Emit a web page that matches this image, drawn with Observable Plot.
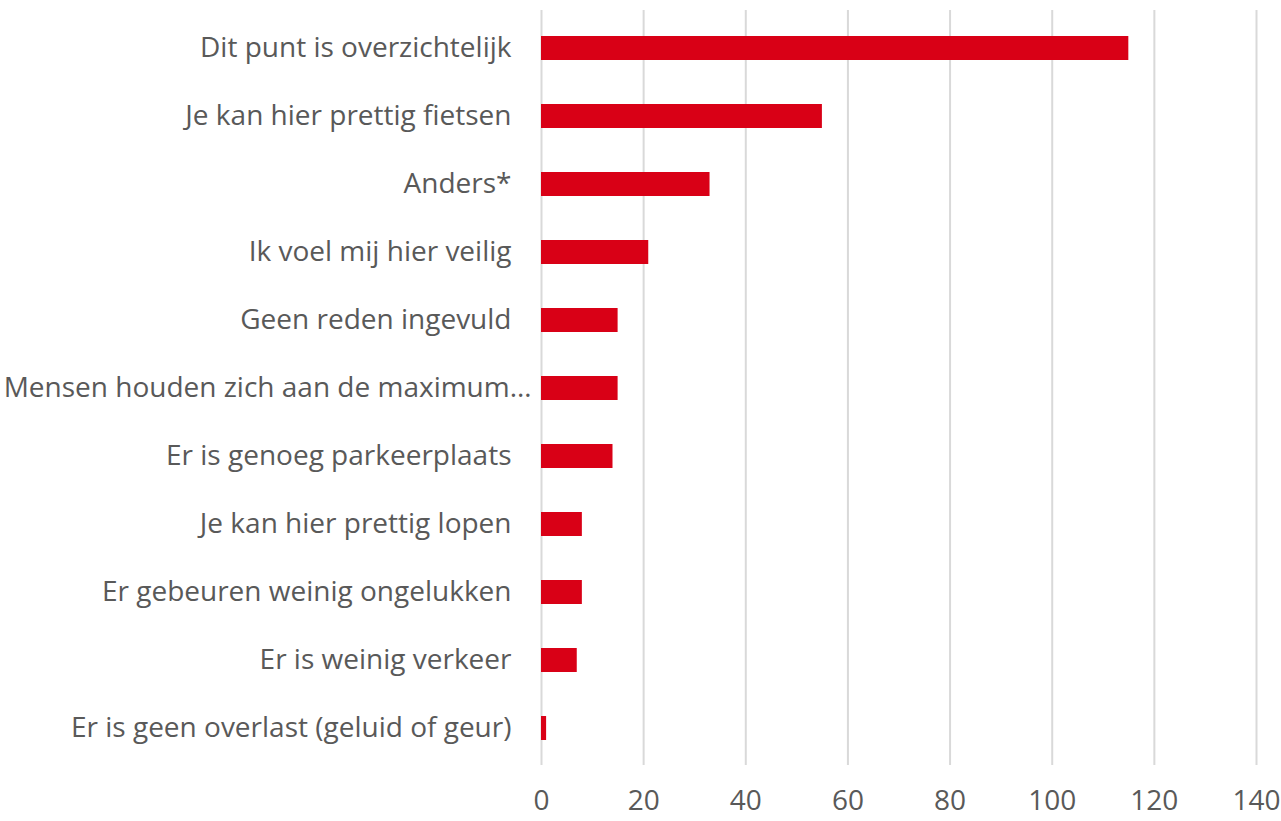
<!DOCTYPE html>
<html>
<head>
<meta charset="utf-8">
<script src="https://cdn.jsdelivr.net/npm/d3@7"></script>
<script src="https://cdn.jsdelivr.net/npm/@observablehq/plot@0.6"></script>
<style>
  html, body { margin: 0; padding: 0; background: #fff; }
  #chart { width: 1281px; height: 821px; }
</style>
</head>
<body>
<div id="chart"></div>
<script>
const categories = [
  "Dit punt is overzichtelijk",
  "Je kan hier prettig fietsen",
  "Anders*",
  "Ik voel mij hier veilig",
  "Geen reden ingevuld",
  "Mensen houden zich aan de maximum…",
  "Er is genoeg parkeerplaats",
  "Je kan hier prettig lopen",
  "Er gebeuren weinig ongelukken",
  "Er is weinig verkeer",
  "Er is geen overlast (geluid of geur)"
];
const values = [115, 55, 33, 21, 15, 15, 14, 8, 8, 7, 1];
const xTicks = [0, 20, 40, 60, 80, 100, 120, 140];
const truncatedLabel = "Mensen houden zich aan de maximum…";

const data = categories.map((c, i) => ({category: c, value: values[i]}));
const normalLabels = data.filter(d => d.category !== truncatedLabel);
const longLabels = data.filter(d => d.category === truncatedLabel);

const chart = Plot.plot({
  width: 1281,
  height: 821,
  marginLeft: 541,
  marginRight: 25,
  marginTop: 10,
  marginBottom: 56,
  style: {fontFamily: "'Open Sans', sans-serif", fontSize: "28px", color: "#595959", background: "#fff"},
  x: {domain: [0, 140], ticks: xTicks},
  y: {domain: categories, paddingInner: 0.65, paddingOuter: 0.325, axis: null},
  marks: [
    Plot.ruleX(xTicks, {stroke: "#d9d9d9", strokeWidth: 2}),
    Plot.barX(data, {x: "value", y: "category", fill: "#d90016"}),
    Plot.axisX({ticks: xTicks, tickSize: 0, tickPadding: 25, fontSize: 28, fill: "#595959", label: null}),
    Plot.text(normalLabels, {x: 0, y: "category", text: "category", textAnchor: "end", dx: -30, fontSize: 28, fill: "#595959"}),
    Plot.text(longLabels, {x: 0, y: "category", text: "category", textAnchor: "end", dx: -10, fontSize: 28, fill: "#595959"})
  ]
});
document.getElementById("chart").appendChild(chart);
</script>
</body>
</html>
